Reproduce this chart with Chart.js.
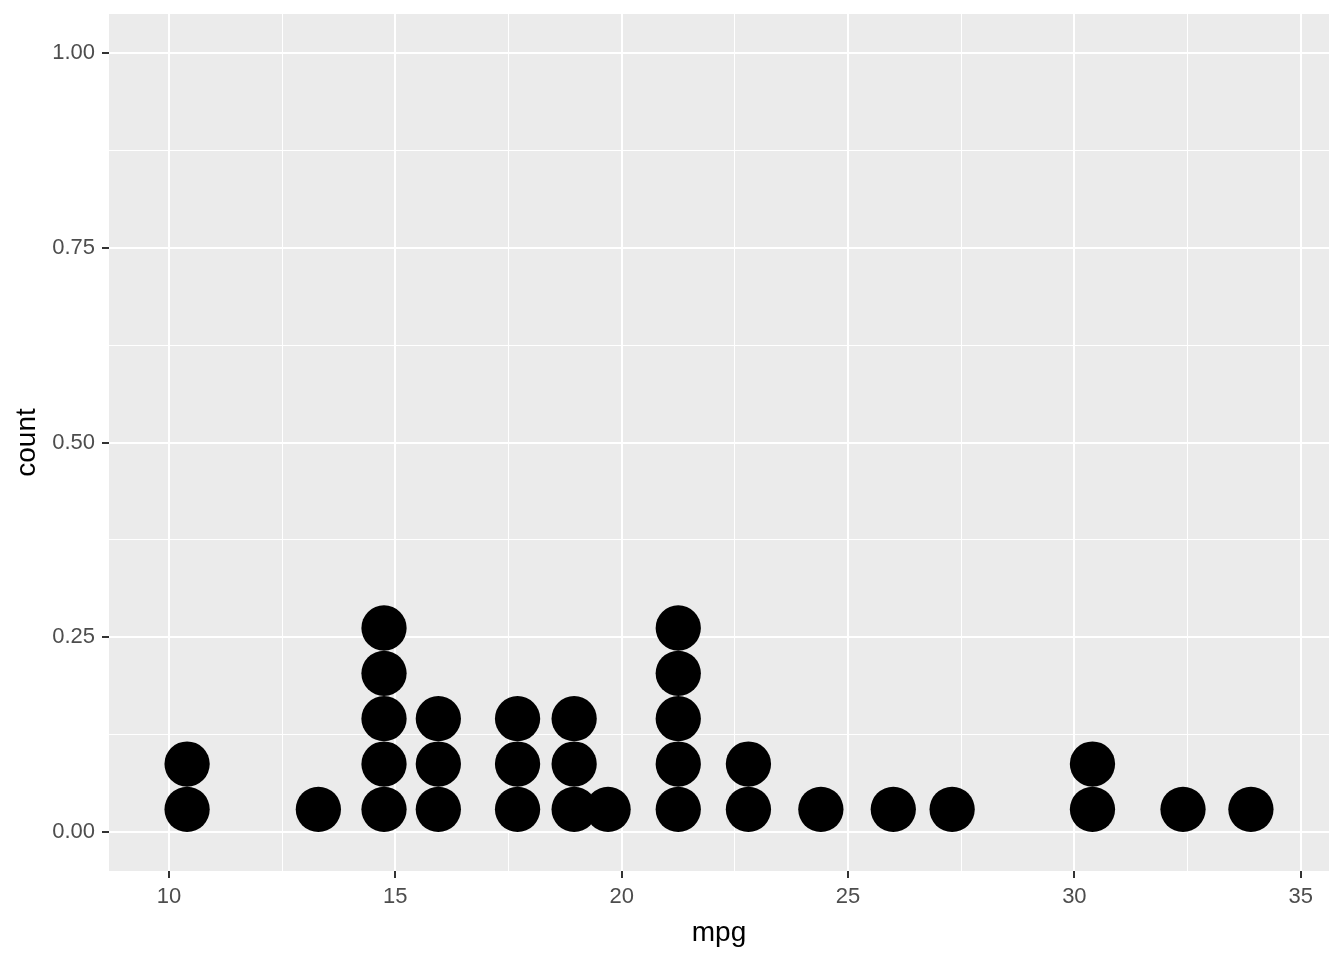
<!DOCTYPE html>
<html>
<head>
<meta charset="utf-8">
<script src="https://cdn.jsdelivr.net/npm/chart.js@4/dist/chart.umd.min.js"></script>
<style>
  html, body { margin: 0; padding: 0; background: #ffffff; }
  #wrap { width: 1344px; height: 960px; }
</style>
</head>
<body>
<div id="wrap"><canvas id="dotplot" width="1344" height="960"></canvas></div>
<script>
// Bin centres (mpg) and how many cars fall in each bin (binwidth = 1)
const binCenters = [10.4, 13.3, 14.75, 15.95, 17.7, 18.95, 19.7, 21.25, 22.8, 24.4, 26.0, 27.3, 30.4, 32.4, 33.9];
const binCounts  = [2, 1, 5, 3, 3, 3, 1, 5, 2, 1, 1, 1, 2, 1, 1];
const binWidth   = 1;

// Axis ticks
const xMajorTicks = [10, 15, 20, 25, 30, 35];
const xMinorTicks = [12.5, 17.5, 22.5, 27.5, 32.5];
const yMajorTicks = [0, 0.25, 0.5, 0.75, 1];
const yMinorTicks = [0.125, 0.375, 0.625, 0.875];

// Stacked dot height in count units
const dotStep = 0.0582;

const dots = [];
binCenters.forEach((x, i) => {
   for (let k = 0; k < binCounts[i]; k++) {
      dots.push({ x: x, y: (k + 0.5) * dotStep });
   }
});

const tickColor  = "#4D4D4D";
const fontFamily = "'Liberation Sans', Arial, sans-serif";

const isMajor = (list, v) => list.some(t => Math.abs(t - v) < 1e-9);

const panelBg = {
   id: "panelBg",
   beforeDraw(chart) {
      const { ctx, chartArea: a } = chart;
      ctx.save();
      ctx.fillStyle = "#EBEBEB";
      ctx.fillRect(a.left, a.top, a.right - a.left, a.bottom - a.top);
      ctx.restore();
   }
};

function gridFor(majors) {
   return {
      color: "#FFFFFF",
      lineWidth: c => isMajor(majors, c.tick.value) ? 2 : 1,
      drawTicks: true,
      tickLength: 7,
      tickWidth: 2,
      tickColor: c => isMajor(majors, c.tick.value) ? "#333333" : "rgba(0,0,0,0)"
   };
}

// no label overflow padding, the panel size is fixed by the layout padding
function noPad(s) {
   s.paddingTop = 0;
   s.paddingBottom = 0;
   s.paddingLeft = 0;
   s.paddingRight = 0;
}

const dotRadius = c => {
   const s = c.chart.scales.x;
   return Math.abs(s.getPixelForValue(binWidth) - s.getPixelForValue(0)) / 2;
};

new Chart(document.getElementById("dotplot"), {
   type: "scatter",
   data: {
      datasets: [{
         data: dots,
         backgroundColor: "#000000",
         borderWidth: 0,
         pointStyle: "circle",
         pointRadius: dotRadius,
         pointHoverRadius: dotRadius
      }]
   },
   options: {
      responsive: false,
      devicePixelRatio: 1,
      animation: false,
      layout: { padding: { left: 0, top: 14, right: 15, bottom: 0 } },
      plugins: {
         legend: { display: false },
         tooltip: { enabled: false }
      },
      scales: {
         x: {
            type: "linear",
            min: 8.675,
            max: 35.625,
            afterBuildTicks: s => {
               s.ticks = xMajorTicks.concat(xMinorTicks).sort((a, b) => a - b).map(v => ({ value: v }));
            },
            afterFit: s => { s.height = 89; noPad(s); },
            border: { display: false },
            grid: gridFor(xMajorTicks),
            ticks: {
               padding: 6,
               color: tickColor,
               font: { family: fontFamily, size: 22 },
               maxRotation: 0,
               autoSkip: false,
               callback: v => isMajor(xMajorTicks, v) ? String(v) : ""
            },
            title: {
               display: true,
               text: "mpg",
               color: "#000000",
               font: { family: fontFamily, size: 28 },
               padding: { top: 0, bottom: 10 }
            }
         },
         y: {
            type: "linear",
            min: -0.05,
            max: 1.05,
            afterBuildTicks: s => {
               s.ticks = yMajorTicks.concat(yMinorTicks).sort((a, b) => a - b).map(v => ({ value: v }));
            },
            afterFit: s => { s.width = 109; noPad(s); },
            border: { display: false },
            grid: gridFor(yMajorTicks),
            ticks: {
               padding: 7,
               color: tickColor,
               font: { family: fontFamily, size: 22 },
               autoSkip: false,
               callback: v => isMajor(yMajorTicks, v) ? v.toFixed(2) : ""
            },
            title: {
               display: true,
               text: "count",
               color: "#000000",
               font: { family: fontFamily, size: 28 },
               padding: { top: 10, bottom: 0 }
            }
         }
      }
   },
   plugins: [panelBg]
});
</script>
</body>
</html>
